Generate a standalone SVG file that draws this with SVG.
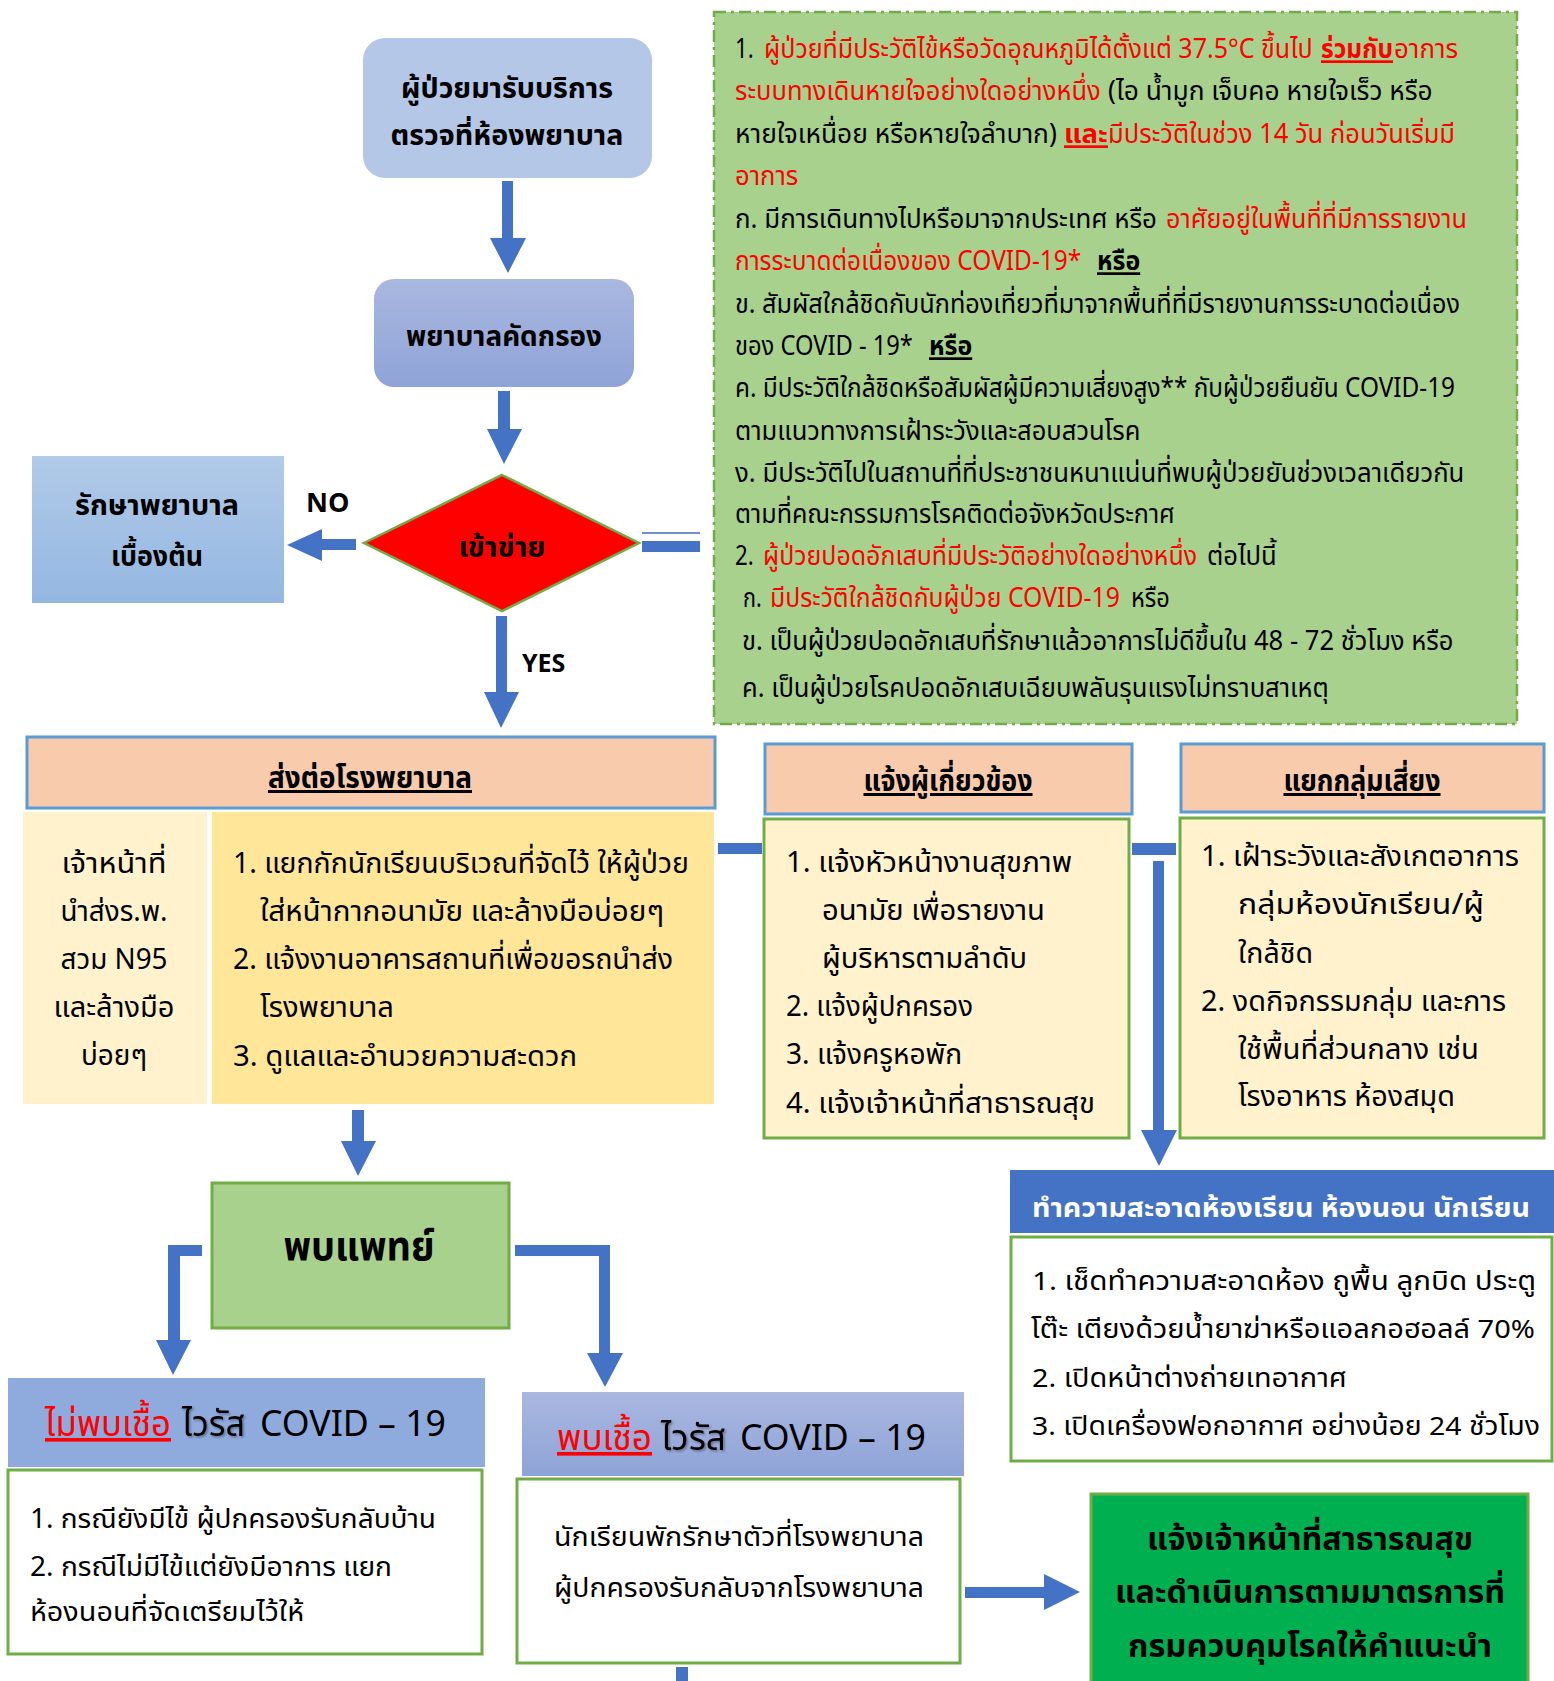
<svg xmlns="http://www.w3.org/2000/svg" width="1554" height="1681" viewBox="0 0 1554 1681">
  <style>
    text { font-family: "Noto Sans Thai", "Noto Sans", "Liberation Sans", sans-serif; fill: #000; }
    .b { font-weight: bold; }
    .r { fill: #ff0000; }
    .u { text-decoration: underline; }
    .w { fill: #ffffff; }
    .arrow { fill: #4472c4; }
    .c27 { font-size: 27px; }
    .c29 { font-size: 29px; }
    .hdr { fill: #f8cbad; stroke: #5b9bd5; stroke-width: 3; }
    .gbox { stroke: #70ad47; stroke-width: 3; }
  </style>
  <defs>
    <linearGradient id="gPurple" x1="0" y1="0" x2="0" y2="1">
      <stop offset="0" stop-color="#aab8e0"/>
      <stop offset="1" stop-color="#8ea3d7"/>
    </linearGradient>
    <linearGradient id="gSky" x1="0" y1="0" x2="0" y2="1">
      <stop offset="0" stop-color="#b1cae8"/>
      <stop offset="1" stop-color="#94b7e1"/>
    </linearGradient>
    <filter id="soft" x="-10%" y="-20%" width="130%" height="150%">
      <feDropShadow dx="1.5" dy="1.5" stdDeviation="1" flood-color="#000" flood-opacity="0.35"/>
    </filter>
  </defs>

  <rect width="1554" height="1681" fill="#ffffff"/>

  <!-- connectors -->
  <g id="connectors">
    <polygon class="arrow" points="502,181 513,181 513,238 526,238 508,273 490,238 502,238"/>
    <polygon class="arrow" points="498,391 510,391 510,429 522,429 504,464 487,429 498,429"/>
    <polygon class="arrow" points="356,539 322,539 322,529 287,545 322,561 322,550 356,550"/>
    <line x1="642" y1="533" x2="700" y2="533" stroke="#6f90d2" stroke-width="2"/>
    <rect class="arrow" x="642" y="541" width="58" height="11"/>
    <polygon class="arrow" points="496,616 507,616 507,692 519,692 501,728 484,692 496,692"/>
    <rect class="arrow" x="718" y="843" width="44" height="11"/>
    <rect class="arrow" x="1132" y="843" width="44" height="12"/>
    <polygon class="arrow" points="1153,861 1164,861 1164,1130 1177,1130 1159,1166 1141,1130 1153,1130"/>
    <polygon class="arrow" points="352,1110 364,1110 364,1141 376,1141 358,1176 341,1141 352,1141"/>
    <polygon class="arrow" points="202,1245 168,1245 168,1340 156,1340 173,1375 191,1340 180,1340 180,1256 202,1256"/>
    <polygon class="arrow" points="515,1245 610,1245 610,1353 623,1353 605,1387 587,1353 599,1353 599,1256 515,1256"/>
    <polygon class="arrow" points="965,1587 1044,1587 1044,1574 1080,1592 1044,1610 1044,1598 965,1598"/>
    <rect class="arrow" x="676" y="1667" width="12" height="14"/>
  </g>

  <!-- patient arrives at the nurse room -->
  <g id="arrive">
    <rect x="363" y="38" width="289" height="140" rx="22" fill="#b4c7e7"/>
    <text class="b" x="507" y="98" font-size="28" text-anchor="middle" textLength="212" lengthAdjust="spacingAndGlyphs">ผู้ป่วยมารับบริการ</text>
    <text class="b" x="507" y="145" font-size="28" text-anchor="middle" textLength="233" lengthAdjust="spacingAndGlyphs">ตรวจที่ห้องพยาบาล</text>
  </g>

  <!-- nurse screening -->
  <g id="screening">
    <rect x="374" y="279" width="260" height="108" rx="20" fill="url(#gPurple)"/>
    <text class="b" x="504" y="346" font-size="28" text-anchor="middle" textLength="196" lengthAdjust="spacingAndGlyphs">พยาบาลคัดกรอง</text>
  </g>

  <!-- decision -->
  <g id="decision">
    <polygon points="502,475 639,543 502,611 364,543" fill="#ff0000" stroke="#70ad47" stroke-width="2.5"/>
    <text class="b" x="502" y="557" font-size="28" text-anchor="middle" textLength="87" lengthAdjust="spacingAndGlyphs">เข้าข่าย</text>
  </g>

  <!-- primary care -->
  <g id="primary-care">
    <rect x="32" y="456" width="252" height="147" fill="url(#gSky)"/>
    <text class="b" x="157" y="515" font-size="29" text-anchor="middle" textLength="164" lengthAdjust="spacingAndGlyphs">รักษาพยาบาล</text>
    <text class="b" x="157" y="566" font-size="29" text-anchor="middle" textLength="92" lengthAdjust="spacingAndGlyphs">เบื้องต้น</text>
  </g>

  <g id="labels">
    <text class="b" x="306" y="512" font-size="27" font-family="Liberation Sans, sans-serif">NO</text>
    <text class="b" x="522" y="672" font-size="25" font-family="Liberation Sans, sans-serif">YES</text>
  </g>

  <!-- screening criteria; condensed lines are drawn at 72% width -->
  <g id="criteria">
    <rect x="714" y="12" width="803" height="712" fill="#a9d18e" stroke="#70ad47" stroke-width="2.5" stroke-dasharray="12 5 3 5"/>
    <g class="c27">
      <text transform="translate(735,58) scale(0.72,1)" textLength="26" lengthAdjust="spacingAndGlyphs">1.</text>
      <text class="r" transform="translate(764,58) scale(0.72,1)" textLength="762" lengthAdjust="spacingAndGlyphs">ผู้ป่วยที่มีประวัติไข้หรือวัดอุณหภูมิได้ตั้งแต่ 37.5°C ขึ้นไป</text>
      <text class="r b u" transform="translate(1321,58) scale(0.72,1)" textLength="100" lengthAdjust="spacingAndGlyphs">ร่วมกับ</text>
      <text class="r" transform="translate(1394,58) scale(0.72,1)" textLength="89" lengthAdjust="spacingAndGlyphs">อาการ</text>

      <text class="r" transform="translate(735,100) scale(0.72,1)" textLength="508" lengthAdjust="spacingAndGlyphs">ระบบทางเดินหายใจอย่างใดอย่างหนึ่ง</text>
      <text transform="translate(1108,100) scale(0.72,1)" textLength="451" lengthAdjust="spacingAndGlyphs">(ไอ น้ำมูก เจ็บคอ หายใจเร็ว หรือ</text>

      <text transform="translate(735,143) scale(0.72,1)" textLength="447" lengthAdjust="spacingAndGlyphs">หายใจเหนื่อย หรือหายใจลำบาก)</text>
      <text class="r b u" transform="translate(1064,143) scale(0.72,1)" textLength="61" lengthAdjust="spacingAndGlyphs">และ</text>
      <text class="r" transform="translate(1108,143) scale(0.72,1)" textLength="482" lengthAdjust="spacingAndGlyphs">มีประวัติในช่วง 14 วัน ก่อนวันเริ่มมี</text>

      <text class="r" transform="translate(735,185) scale(0.72,1)" textLength="88" lengthAdjust="spacingAndGlyphs">อาการ</text>

      <text transform="translate(735,228) scale(0.72,1)" textLength="586" lengthAdjust="spacingAndGlyphs">ก. มีการเดินทางไปหรือมาจากประเทศ หรือ</text>
      <text class="r" transform="translate(1166,228) scale(0.72,1)" textLength="418" lengthAdjust="spacingAndGlyphs">อาศัยอยู่ในพื้นที่ที่มีการรายงาน</text>

      <text class="r" transform="translate(735,270) scale(0.72,1)" textLength="481" lengthAdjust="spacingAndGlyphs">การระบาดต่อเนื่องของ COVID-19*</text>
      <text class="b u" transform="translate(1097,270) scale(0.72,1)" textLength="60" lengthAdjust="spacingAndGlyphs">หรือ</text>

      <text transform="translate(735,313) scale(0.72,1)" textLength="1007" lengthAdjust="spacingAndGlyphs">ข. สัมผัสใกล้ชิดกับนักท่องเที่ยวที่มาจากพื้นที่ที่มีรายงานการระบาดต่อเนื่อง</text>

      <text transform="translate(735,355) scale(0.72,1)" textLength="247" lengthAdjust="spacingAndGlyphs">ของ COVID - 19*</text>
      <text class="b u" transform="translate(929,355) scale(0.72,1)" textLength="60" lengthAdjust="spacingAndGlyphs">หรือ</text>

      <text transform="translate(735,397) scale(0.72,1)" textLength="1000" lengthAdjust="spacingAndGlyphs">ค. มีประวัติใกล้ชิดหรือสัมผัสผู้มีความเสี่ยงสูง** กับผู้ป่วยยืนยัน COVID-19</text>
      <text transform="translate(735,440) scale(0.72,1)" textLength="563" lengthAdjust="spacingAndGlyphs">ตามแนวทางการเฝ้าระวังและสอบสวนโรค</text>
      <text transform="translate(735,482) scale(0.72,1)" textLength="1013" lengthAdjust="spacingAndGlyphs">ง. มีประวัติไปในสถานที่ที่ประชาชนหนาแน่นที่พบผู้ป่วยยันช่วงเวลาเดียวกัน</text>
      <text transform="translate(735,523) scale(0.72,1)" textLength="611" lengthAdjust="spacingAndGlyphs">ตามที่คณะกรรมการโรคติดต่อจังหวัดประกาศ</text>

      <text transform="translate(735,565) scale(0.72,1)" textLength="26" lengthAdjust="spacingAndGlyphs">2.</text>
      <text class="r" transform="translate(763,565) scale(0.72,1)" textLength="603" lengthAdjust="spacingAndGlyphs">ผู้ป่วยปอดอักเสบที่มีประวัติอย่างใดอย่างหนึ่ง</text>
      <text transform="translate(1207,565) scale(0.72,1)" textLength="97" lengthAdjust="spacingAndGlyphs">ต่อไปนี้</text>

      <text transform="translate(743,607) scale(0.72,1)" textLength="26" lengthAdjust="spacingAndGlyphs">ก.</text>
      <text class="r" transform="translate(770,607) scale(0.72,1)" textLength="486" lengthAdjust="spacingAndGlyphs">มีประวัติใกล้ชิดกับผู้ป่วย COVID-19</text>
      <text transform="translate(1131,607) scale(0.72,1)" textLength="54" lengthAdjust="spacingAndGlyphs">หรือ</text>

      <text transform="translate(742,650) scale(0.72,1)" textLength="988" lengthAdjust="spacingAndGlyphs">ข. เป็นผู้ป่วยปอดอักเสบที่รักษาแล้วอาการไม่ดีขึ้นใน 48 - 72 ชั่วโมง หรือ</text>
      <text transform="translate(742,697) scale(0.72,1)" textLength="815" lengthAdjust="spacingAndGlyphs">ค. เป็นผู้ป่วยโรคปอดอักเสบเฉียบพลันรุนแรงไม่ทราบสาเหตุ</text>
    </g>
  </g>

  <!-- refer to hospital -->
  <g id="refer">
    <rect class="hdr" x="27" y="737" width="688" height="71"/>
    <text class="b u" x="370" y="788" font-size="30" text-anchor="middle" textLength="204" lengthAdjust="spacingAndGlyphs">ส่งต่อโรงพยาบาล</text>
    <rect x="23" y="812" width="184" height="292" fill="#fff2cc"/>
    <g class="c29" text-anchor="middle">
      <text x="114" y="873" textLength="105" lengthAdjust="spacingAndGlyphs">เจ้าหน้าที่</text>
      <text x="114" y="921" textLength="107" lengthAdjust="spacingAndGlyphs">นำส่งร.พ.</text>
      <text x="114" y="969" textLength="107" lengthAdjust="spacingAndGlyphs">สวม N95</text>
      <text x="114" y="1017" textLength="121" lengthAdjust="spacingAndGlyphs">และล้างมือ</text>
      <text x="114" y="1065" textLength="66" lengthAdjust="spacingAndGlyphs">บ่อยๆ</text>
    </g>
    <rect x="212" y="812" width="502" height="292" fill="#ffe699"/>
    <g class="c29">
      <text x="233" y="873" textLength="456" lengthAdjust="spacingAndGlyphs">1. แยกกักนักเรียนบริเวณที่จัดไว้ ให้ผู้ป่วย</text>
      <text x="260" y="921" textLength="404" lengthAdjust="spacingAndGlyphs">ใส่หน้ากากอนามัย และล้างมือบ่อยๆ</text>
      <text x="233" y="969" textLength="440" lengthAdjust="spacingAndGlyphs">2. แจ้งงานอาคารสถานที่เพื่อขอรถนำส่ง</text>
      <text x="260" y="1017" textLength="134" lengthAdjust="spacingAndGlyphs">โรงพยาบาล</text>
      <text x="233" y="1066" textLength="344" lengthAdjust="spacingAndGlyphs">3. ดูแลและอำนวยความสะดวก</text>
    </g>
  </g>

  <!-- notify the people concerned -->
  <g id="notify">
    <rect class="hdr" x="765" y="744" width="367" height="70"/>
    <text class="b u" x="948" y="791" font-size="30" text-anchor="middle" textLength="169" lengthAdjust="spacingAndGlyphs">แจ้งผู้เกี่ยวข้อง</text>
    <rect class="gbox" x="764" y="819" width="365" height="319" fill="#fff2cc"/>
    <g class="c29">
      <text x="786" y="872" textLength="286" lengthAdjust="spacingAndGlyphs">1.  แจ้งหัวหน้างานสุขภาพ</text>
      <text x="822" y="920" textLength="223" lengthAdjust="spacingAndGlyphs">อนามัย เพื่อรายงาน</text>
      <text x="822" y="968" textLength="205" lengthAdjust="spacingAndGlyphs">ผู้บริหารตามลำดับ</text>
      <text x="786" y="1016" textLength="187" lengthAdjust="spacingAndGlyphs">2.  แจ้งผู้ปกครอง</text>
      <text x="786" y="1064" textLength="176" lengthAdjust="spacingAndGlyphs">3.  แจ้งครูหอพัก</text>
      <text x="786" y="1113" textLength="309" lengthAdjust="spacingAndGlyphs">4.  แจ้งเจ้าหน้าที่สาธารณสุข</text>
    </g>
  </g>

  <!-- separate the risk group -->
  <g id="risk-group">
    <rect class="hdr" x="1181" y="744" width="363" height="68"/>
    <text class="b u" x="1362" y="791" font-size="30" text-anchor="middle" textLength="157" lengthAdjust="spacingAndGlyphs">แยกกลุ่มเสี่ยง</text>
    <rect class="gbox" x="1180" y="818" width="364" height="320" fill="#fff2cc"/>
    <g class="c29">
      <text x="1201" y="866" textLength="318" lengthAdjust="spacingAndGlyphs">1.  เฝ้าระวังและสังเกตอาการ</text>
      <text x="1238" y="914" textLength="246" lengthAdjust="spacingAndGlyphs">กลุ่มห้องนักเรียน/ผู้</text>
      <text x="1238" y="963" textLength="75" lengthAdjust="spacingAndGlyphs">ใกล้ชิด</text>
      <text x="1201" y="1011" textLength="305" lengthAdjust="spacingAndGlyphs">2.  งดกิจกรรมกลุ่ม และการ</text>
      <text x="1238" y="1059" textLength="241" lengthAdjust="spacingAndGlyphs">ใช้พื้นที่ส่วนกลาง เช่น</text>
      <text x="1238" y="1106" textLength="217" lengthAdjust="spacingAndGlyphs">โรงอาหาร ห้องสมุด</text>
    </g>
  </g>

  <!-- cleaning -->
  <g id="cleaning">
    <rect x="1010" y="1170" width="544" height="63" fill="#4472c4"/>
    <text class="w b" x="1032" y="1217" font-size="27" textLength="498" lengthAdjust="spacingAndGlyphs">ทำความสะอาดห้องเรียน ห้องนอน นักเรียน</text>
    <rect class="gbox" x="1011" y="1237" width="541" height="224" fill="#ffffff"/>
    <g font-size="26">
      <text x="1032" y="1290" textLength="504" lengthAdjust="spacingAndGlyphs">1. เช็ดทำความสะอาดห้อง ถูพื้น ลูกบิด ประตู</text>
      <text x="1031" y="1338" textLength="504" lengthAdjust="spacingAndGlyphs">โต๊ะ เตียงด้วยน้ำยาฆ่าหรือแอลกอฮอลล์ 70%</text>
      <text x="1032" y="1387" textLength="315" lengthAdjust="spacingAndGlyphs">2. เปิดหน้าต่างถ่ายเทอากาศ</text>
      <text x="1032" y="1435" textLength="508" lengthAdjust="spacingAndGlyphs">3. เปิดเครื่องฟอกอากาศ อย่างน้อย 24 ชั่วโมง</text>
    </g>
  </g>

  <!-- see the doctor -->
  <g id="doctor">
    <rect x="212" y="1183" width="297" height="145" fill="#a9d18e" stroke="#70ad47" stroke-width="3"/>
    <text class="b" x="359" y="1260" font-size="40" text-anchor="middle" textLength="151" lengthAdjust="spacingAndGlyphs">พบแพทย์</text>
  </g>

  <!-- negative result -->
  <g id="negative">
    <rect x="8" y="1378" width="477" height="89" fill="#8faadc"/>
    <text class="r u" x="45" y="1436" font-size="36" textLength="126" lengthAdjust="spacingAndGlyphs">ไม่พบเชื้อ</text>
    <text x="182" y="1436" font-size="36" textLength="63" lengthAdjust="spacingAndGlyphs" filter="url(#soft)">ไวรัส</text>
    <text x="260" y="1436" font-size="36" textLength="186" lengthAdjust="spacingAndGlyphs">COVID – 19</text>
    <rect class="gbox" x="8" y="1470" width="474" height="184" fill="#ffffff"/>
    <g class="c27">
      <text x="30" y="1528" textLength="406" lengthAdjust="spacingAndGlyphs">1. กรณียังมีไข้ ผู้ปกครองรับกลับบ้าน</text>
      <text x="30" y="1576" textLength="362" lengthAdjust="spacingAndGlyphs">2. กรณีไม่มีไข้แต่ยังมีอาการ แยก</text>
      <text x="30" y="1621" textLength="274" lengthAdjust="spacingAndGlyphs">ห้องนอนที่จัดเตรียมไว้ให้</text>
    </g>
  </g>

  <!-- positive result -->
  <g id="positive">
    <rect x="522" y="1392" width="442" height="84" fill="url(#gPurple)"/>
    <text class="r u" x="557" y="1450" font-size="36" textLength="95" lengthAdjust="spacingAndGlyphs">พบเชื้อ</text>
    <text x="661" y="1450" font-size="36" textLength="65" lengthAdjust="spacingAndGlyphs" filter="url(#soft)">ไวรัส</text>
    <text x="740" y="1450" font-size="36" textLength="186" lengthAdjust="spacingAndGlyphs">COVID – 19</text>
    <rect class="gbox" x="517" y="1479" width="443" height="184" fill="#ffffff"/>
    <g class="c27">
      <text x="554" y="1546" textLength="370" lengthAdjust="spacingAndGlyphs">นักเรียนพักรักษาตัวที่โรงพยาบาล</text>
      <text x="554" y="1597" textLength="370" lengthAdjust="spacingAndGlyphs">ผู้ปกครองรับกลับจากโรงพยาบาล</text>
    </g>
  </g>

  <!-- notify public health officers -->
  <g id="public-health">
    <rect x="1091" y="1494" width="437" height="200" fill="#00b050" stroke="#70ad47" stroke-width="3"/>
    <g class="b" font-size="32" text-anchor="middle">
      <text x="1310" y="1550" textLength="326" lengthAdjust="spacingAndGlyphs">แจ้งเจ้าหน้าที่สาธารณสุข</text>
      <text x="1310" y="1603" textLength="390" lengthAdjust="spacingAndGlyphs">และดำเนินการตามมาตรการที่</text>
      <text x="1310" y="1657" textLength="364" lengthAdjust="spacingAndGlyphs">กรมควบคุมโรคให้คำแนะนำ</text>
    </g>
  </g>
</svg>
